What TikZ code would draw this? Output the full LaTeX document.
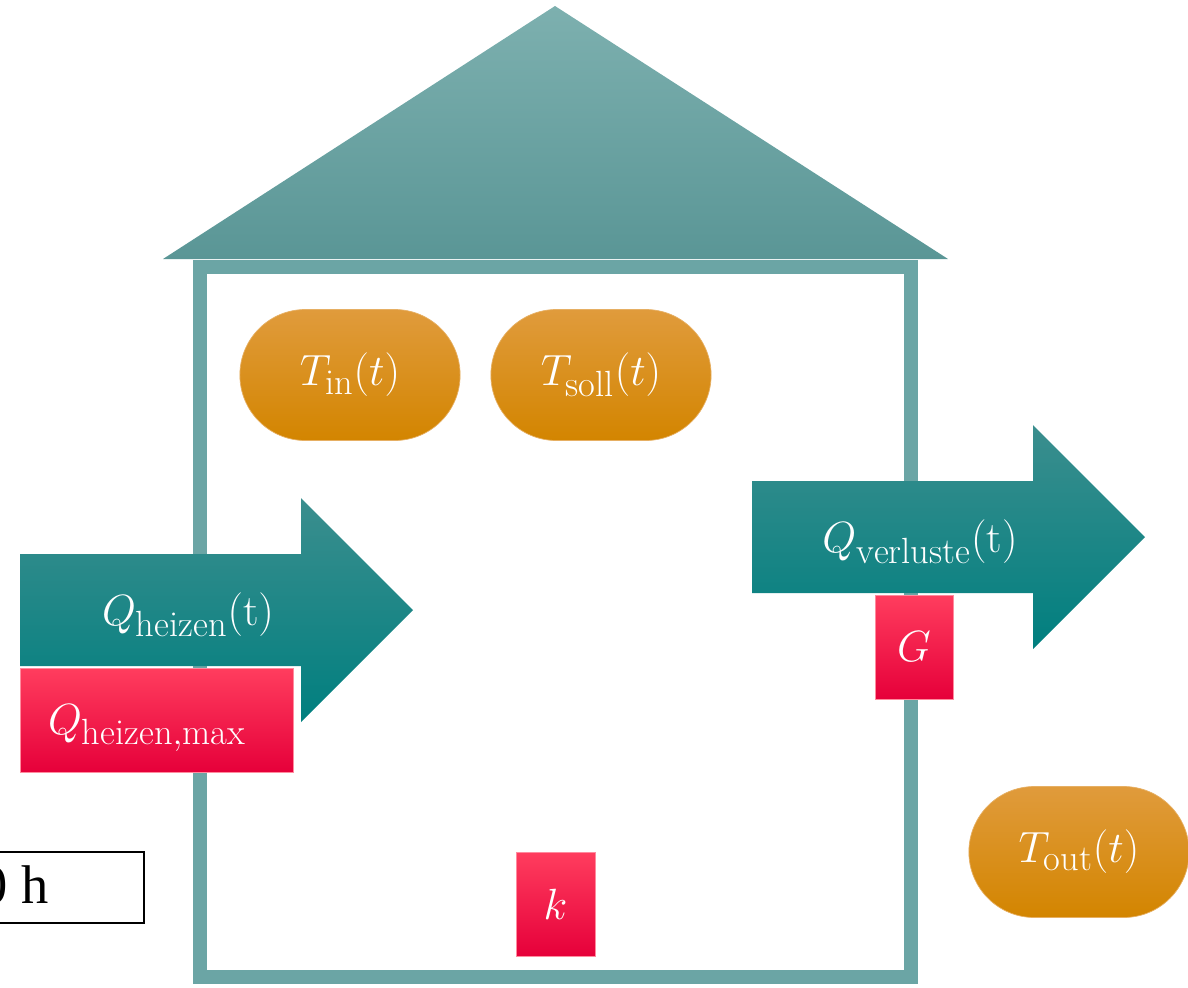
\documentclass[tikz,border=0pt]{standalone}
\usepackage{fontspec}
\newfontfamily\timesfont{Liberation Serif}
\usepackage{tikz}
\usetikzlibrary{shapes.misc}
\definecolor{roofTop}{HTML}{7DB0AF}
\definecolor{roofBottom}{HTML}{5A9696}
\definecolor{wall}{HTML}{6BA5A5}
\definecolor{pillTop}{HTML}{E09B3C}
\definecolor{pillMid}{HTML}{E09000}
\definecolor{pillBottom}{HTML}{D38500}
\definecolor{arrowTop}{HTML}{3B8E8E}
\definecolor{arrowMid}{HTML}{068583}
\definecolor{arrowBottom}{HTML}{007F7F}
\definecolor{redTop}{HTML}{FF3D5E}
\definecolor{redMid}{HTML}{FF0845}
\definecolor{redBottom}{HTML}{E6003A}
\tikzset{
    pill/.style={rounded rectangle, minimum width=4.64cm, minimum height=2.62cm,
        top color=pillTop, middle color=pillMid, bottom color=pillBottom,
        draw=pillTop!80!white, thin, text=white},
    redbox/.style={rectangle, minimum height=2.08cm, inner sep=0pt,
        top color=redTop, middle color=redMid, bottom color=redBottom,
        draw=redTop!60!white, thin, text=white}
}

\begin{document}
\begin{tikzpicture}[x=0.02cm, y=-0.02cm, font=\fontsize{24.88}{30}\selectfont]
            \useasboundingbox (0,0) rectangle (1188,988);
            % house
            \shade[top color=roofTop, bottom color=roofBottom] (163,259) -- (555,6) -- (948,259) -- cycle;
            \draw[color=wall, line width=8pt] (200,267) rectangle (911,977);
            \foreach \n/\x/\y/\s in {tin/350/375/in, tsoll/601/375/soll, tout/1079/852/out} {
                    \node[pill] (\n) at (\x,\y) {$T_{\mathrm{\s}}(t)$};
                }
            % heat flows
            \foreach \n/\x/\y/\s in {qheizen/20/554/heizen, qverluste/752/481/verluste} {
                    \shade[top color=arrowTop, middle color=arrowMid, bottom color=arrowBottom] (\x,\y) -- ++(281,0) -- ++(0,-56)
                        -- ++(112,112) -- ++(-112,112) -- ++(0,-56) -- ++(-281,0) -- cycle;
                    \node[text=white] (\n) at (\x+168,\y+61) {$Q_{\mathrm{\s}}(\mathrm{t})$};
                }
            \node[redbox, minimum width=5.46cm] (qmax) at (156.5,720) {};
            \node[text=white] (qmaxtext) at (147,728) {$Q_{\mathrm{heizen,max}}$};
            \node[redbox, minimum width=1.56cm] (g) at (914,647) {$G$};
            \node[redbox, minimum width=1.58cm] (k) at (555.5,904) {$k$};
            % time
            \draw[line width=1.2pt] (-10,852) rectangle (144,923);
            \node[anchor=base west, inner sep=0pt, font=\timesfont\fontsize{31}{36}\selectfont] (zeit) at (-20,903) {0 h};
        \end{tikzpicture}
\end{document}
